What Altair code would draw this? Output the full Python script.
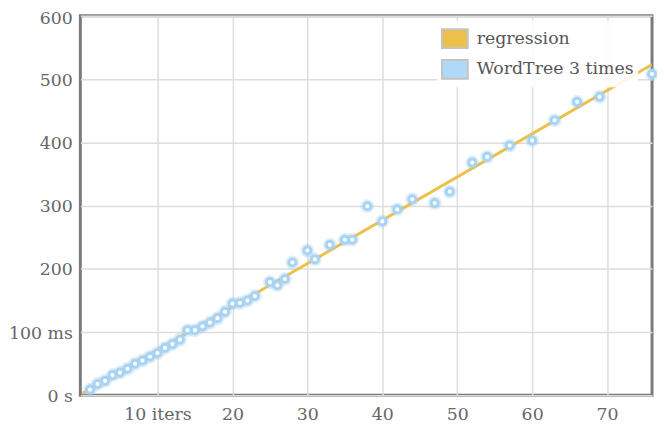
import altair as alt
import pandas as pd

# iterations (x) and time in ms (y)
iters = [1, 2, 3, 4, 5, 6, 7, 8, 9, 10, 11, 12, 13, 14, 15, 16, 17, 18, 19, 20,
         21, 22, 23, 25, 26, 27, 28, 30, 31, 33, 35, 36, 38, 40, 42, 44, 47, 49,
         52, 54, 57, 60, 63, 66, 69, 76]
times = [9, 18, 23, 32, 36, 42, 50, 55, 61, 67, 75, 81, 88, 103, 103, 109, 115, 122, 132, 145,
         146, 150, 157, 179, 174, 184, 210, 229, 215, 238, 246, 246, 299, 275, 294, 310, 304, 322,
         368, 377, 395, 403, 435, 464, 472, 508]

series_names = ["regression", "WordTree 3 times"]
series_colors = ["#EDC04A", "#B0D8F7"]

x_ticks = [10, 20, 30, 40, 50, 60, 70]
y_ticks = [0, 100, 200, 300, 400, 500, 600]

df = pd.DataFrame({"x": iters, "y": times})
legend_df = pd.DataFrame({"series": series_names})

FONT = "DejaVu Serif"
FS = 17.5

x_enc = alt.X("x:Q", scale=alt.Scale(domain=[-0.3, 76], nice=False, zero=False),
              axis=alt.Axis(values=x_ticks, title=None, domain=False, ticks=False,
                            labelExpr="datum.value == 10 ? '10 iters' : datum.label",
                            labelPadding=10, grid=True))
y_enc = alt.Y("y:Q", scale=alt.Scale(domain=[0, 600], nice=False),
              axis=alt.Axis(values=y_ticks, title=None, domain=False, ticks=False,
                            labelExpr="datum.value == 0 ? '0 s' : datum.value == 100 ? '100 ms' : datum.label",
                            labelPadding=8,
                            labelOffset={"condition": {"test": "datum.value == 600", "value": 3}, "value": 1},
                            grid=True))

base = alt.Chart(df)

reg = base.transform_regression("x", "y", extent=[0, 76]).mark_line(
    color=series_colors[0], strokeWidth=3, clip=True
).encode(x=x_enc, y=y_enc)

glow = base.mark_circle(color="#9CCBEF", opacity=0.3, size=200).encode(x="x:Q", y="y:Q")
pts = base.mark_point(shape="circle", filled=False, fill="white", fillOpacity=1,
                      stroke="#A9D3F3", strokeWidth=3, size=52, opacity=1).encode(x="x:Q", y="y:Q")

leg = alt.Chart(legend_df).transform_filter("false").mark_square().encode(
    color=alt.Color("series:N", scale=alt.Scale(domain=series_names, range=series_colors),
                    legend=alt.Legend(
                        title=None, orient="none", legendX=360, legendY=5,
                        symbolType="M-1,-0.73H1V0.73H-1Z", symbolSize=676,
                        symbolStrokeColor="#C4C4C4", symbolStrokeWidth=2,
                        symbolOpacity=1,
                        labelFont=FONT, labelFontSize=FS, labelColor="#555555",
                        labelLimit=400,
                        labelOffset=8, rowPadding=3, padding=4,
                        fillColor="rgba(255,255,255,0.88)"))
)

chart = alt.layer(reg, glow, pts, leg).properties(
    width=577, height=383,
    autosize=alt.AutoSizeParams(type="none"),
    padding={"left": 73, "top": 6, "right": 5, "bottom": 28},
    background="white",
).configure_view(
    stroke="#7A7A7A", strokeWidth=3
).configure_axis(
    labelFont=FONT, labelFontSize=FS, labelColor="#666666",
    gridColor="#DDDDDD", gridWidth=1.5, gridOpacity=1,
)

chart.save("out.html", embed_options={"renderer": "svg", "actions": False})
